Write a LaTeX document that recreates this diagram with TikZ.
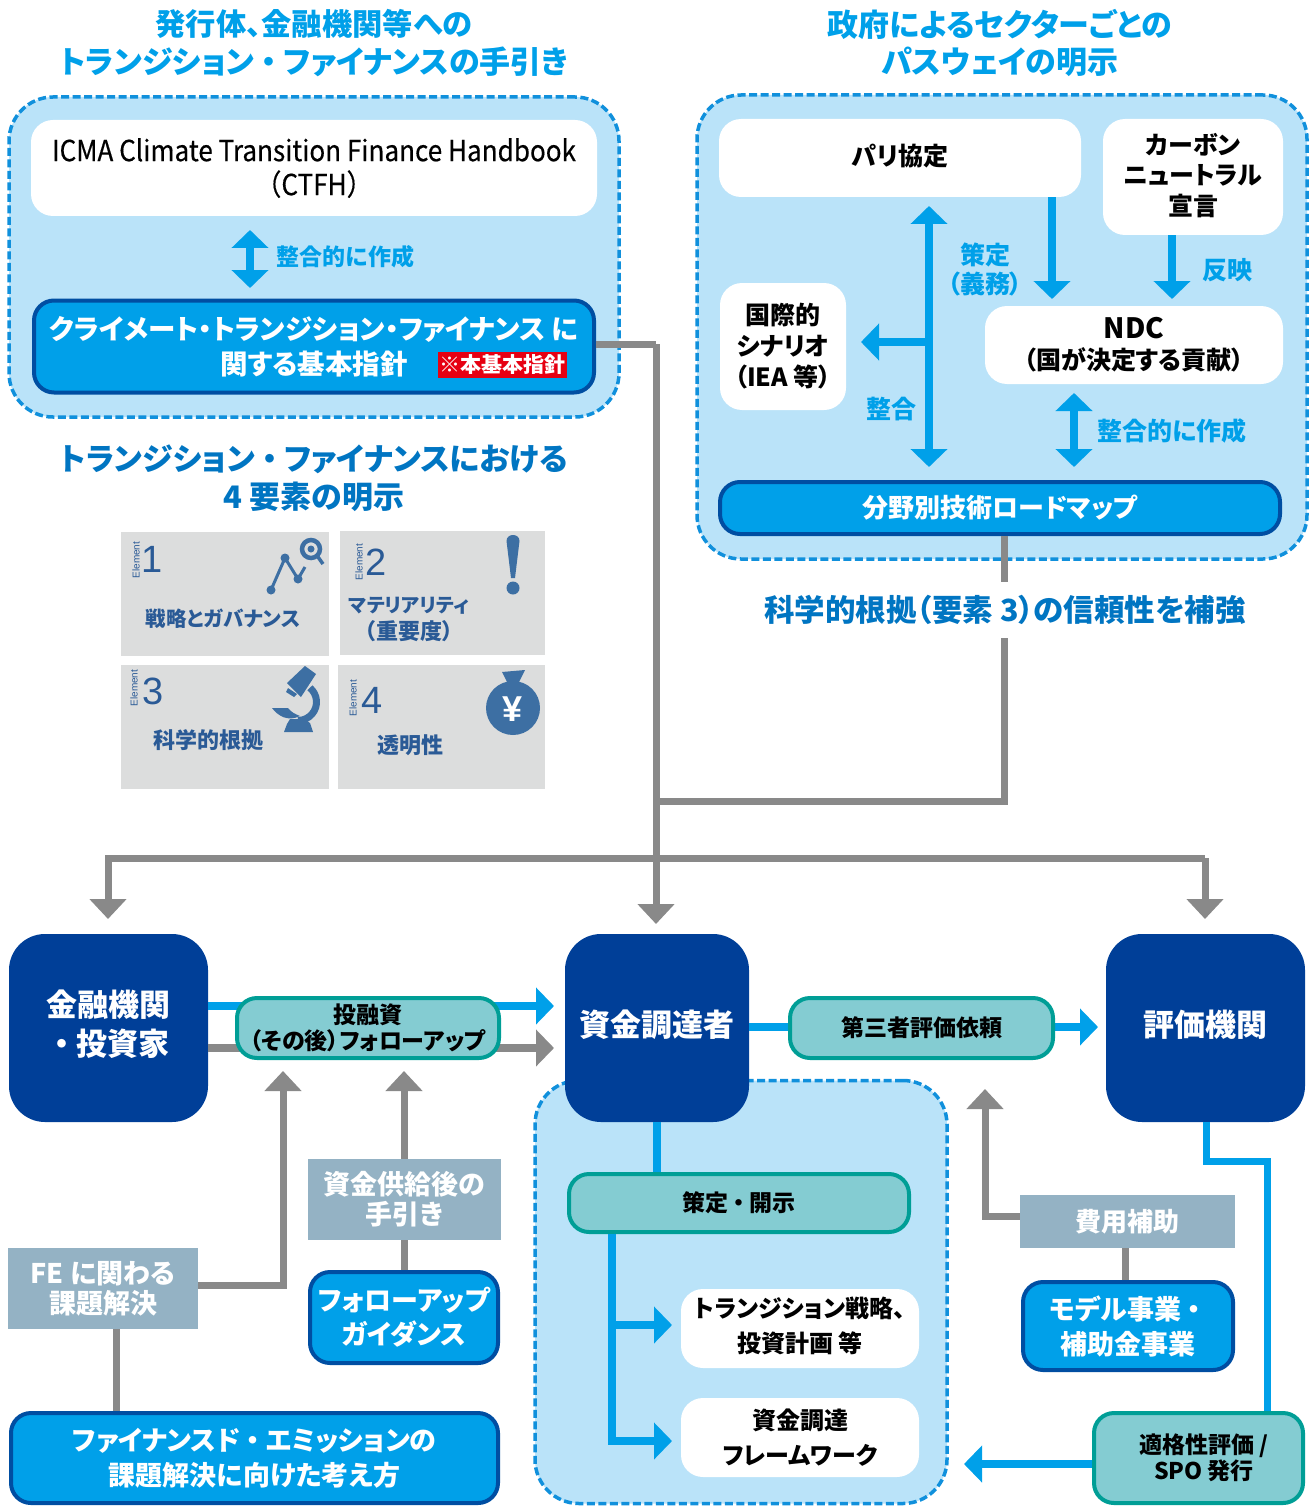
\documentclass[tikz,border=0pt]{standalone}
\usepackage{fontspec}
\usepackage{xcolor}
\usepackage{tikz}
\usetikzlibrary{arrows.meta}
\setmainfont{Noto Sans CJK JP}[RawFeature=+palt]
\newfontfamily\latinfont{Liberation Sans}
\newfontfamily\ctfhfont[FakeStretch=0.9,FakeBold=0.4]{Noto Sans CJK JP}
\newcommand{\widedot}{\hspace*{.22em}・\hspace*{.22em}}
\definecolor{panelblue}{HTML}{BAE3F9}
\definecolor{dashblue}{HTML}{1090DC}
\definecolor{cyanblue}{HTML}{00A0E9}
\definecolor{headblue}{HTML}{0075C2}
\definecolor{navyblue}{HTML}{003F98}
\definecolor{edgeblue}{HTML}{004EA2}
\definecolor{tealfill}{HTML}{84CCD2}
\definecolor{tealedge}{HTML}{009E96}
\definecolor{linegray}{HTML}{898989}
\definecolor{slategray}{HTML}{94B2C4}
\definecolor{cardgray}{HTML}{DCDDDD}
\definecolor{cardblue}{HTML}{2A5A96}
\definecolor{iconblue}{HTML}{3D6FA3}
\definecolor{tagred}{HTML}{E60012}

\begin{document}
\begin{tikzpicture}[x=1pt,y=-1pt]
	\tikzstyle{panel}=[rectangle,draw=dashblue,fill=panelblue,line width=3.5pt,dash pattern=on 8pt off 3.5pt,rounded corners=44pt]
	\tikzstyle{whitebox}=[rectangle,fill=white,rounded corners=22pt,align=center,font=\bfseries\fontsize{25}{31}\selectfont]
	\tikzstyle{bluebox}=[rectangle,draw=edgeblue,fill=cyanblue,line width=4pt,rounded corners=20pt,align=center,text=white,font=\bfseries\fontsize{27}{34}\selectfont]
	\tikzstyle{navybox}=[rectangle,fill=navyblue,rounded corners=36pt,align=center,text=white,font=\bfseries\fontsize{31}{39}\selectfont]
	\tikzstyle{tealbox}=[rectangle,draw=tealedge,fill=tealfill,line width=4pt,rounded corners=20pt,align=center,font=\bfseries\fontsize{23}{26}\selectfont]
	\tikzstyle{slatebox}=[rectangle,fill=slategray,align=center,text=white,font=\bfseries\fontsize{27}{30}\selectfont]
	\tikzstyle{card}=[rectangle,fill=cardgray,minimum width=206pt,minimum height=124pt]
	\tikzstyle{heading}=[align=center,font=\bfseries\fontsize{31}{38}\selectfont]
	\tikzstyle{cyanlabel}=[text=cyanblue,align=center,font=\bfseries\fontsize{25}{29}\selectfont]
	\tikzstyle{cardtext}=[text=cardblue,align=center,font=\bfseries\fontsize{22}{27}\selectfont]
	\tikzstyle{elementtext}=[text=cardblue,rotate=90,font=\latinfont\fontsize{10}{10}\selectfont]
	\tikzstyle{cardnum}=[text=cardblue,font=\latinfont\fontsize{38}{38}\selectfont]
	\tikzstyle{cyanline}=[color=cyanblue,line width=8pt]
	\tikzstyle{grayline}=[color=linegray,line width=7pt]
	\tikzstyle{cyanarrow}=[cyanline,-{Triangle[length=18pt,width=36pt]}]
	\tikzstyle{cyanboth}=[cyanline,{Triangle[length=18pt,width=36pt]}-{Triangle[length=18pt,width=36pt]}]
	\tikzstyle{grayarrow}=[grayline,-{Triangle[length=20pt,width=36pt]}]

	\useasboundingbox (0,0) rectangle (1314,1506);

	% upper left
	\node[heading,text=cyanblue,font=\bfseries\fontsize{30.3}{38}\selectfont] (titleA) at (314,24) {発行体、金融機関等への};
	\node[heading,text=cyanblue] (titleB) at (314,62) {トランジション\widedot ファイナンスの手引き};
	\node[panel,minimum width=610pt,minimum height=320pt] (panelA) at (314,257) {};
	\node[whitebox,minimum width=566pt,minimum height=96pt,font=\ctfhfont\fontsize{29}{34}\selectfont] (ctfh) at (314,168) {ICMA Climate Transition Finance Handbook\\（CTFH）};
	\node[bluebox,minimum width=560pt,minimum height=92pt,font=\bfseries\fontsize{27.5}{35}\selectfont] (guide) at (314,346.5) {クライメート・トランジション・ファイナンス に\\関する基本指針};
	\node[rectangle,fill=tagred,text=white,minimum width=129pt,minimum height=26pt,inner sep=0pt,font=\bfseries\fontsize{21}{21}\selectfont] (tag) at (502.5,365) {※本基本指針};
	\coordinate (guideup) at (250,230);
	\coordinate (guidedown) at (250,288);
	\draw[cyanboth] (guideup) -- (guidedown);
	\node[cyanlabel,font=\bfseries\fontsize{23}{23}\selectfont] (labelA) at (345.5,257) {整合的に作成};

	% upper right
	\node[heading,text=cyanblue] (titleC) at (1000,24) {政府によるセクターごとの};
	\node[heading,text=cyanblue] (titleD) at (1000,62) {パスウェイの明示};
	\node[panel,minimum width=610pt,minimum height=464pt] (panelB) at (1002,327) {};
	\node[whitebox,minimum width=362pt,minimum height=78pt] (paris) at (900,158) {\raisebox{6pt}{パリ協定}};
	\node[whitebox,minimum width=180pt,minimum height=116pt] (carbon) at (1193,177) {\raisebox{5pt}{\shortstack{カーボン\\[5pt]ニュートラル\\[5pt]宣言}}};
	\node[whitebox,minimum width=126pt,minimum height=127pt] (iea) at (783,346.5) {国際的\\シナリオ\\（IEA 等）};
	\node[whitebox,minimum width=298pt,minimum height=78pt] (ndc) at (1134,345) {{\fontsize{28}{28}\selectfont NDC}\\（国が決定する貢献）};
	\node[bluebox,minimum width=560pt,minimum height=52pt,font=\bfseries\fontsize{26}{30}\selectfont] (roadmap) at (1000,508) {分野別技術ロードマップ};
	\coordinate (parisup) at (929,206);
	\coordinate (parisdown) at (929,467);
	\coordinate (ieaend) at (861,342);
	\coordinate (parisndc) at (1052,299);
	\coordinate (carbonndc) at (1172,299);
	\coordinate (ndcup) at (1074,393);
	\coordinate (ndcdown) at (1074,467);
	\draw[cyanboth] (parisup) -- (parisdown);
	\draw[cyanarrow] (parisup |- ieaend) -- (ieaend);
	\draw[cyanarrow] (parisndc |- paris.south) -- (parisndc);
	\draw[cyanarrow] (carbonndc |- carbon.south) -- (carbonndc);
	\draw[cyanboth] (ndcup) -- (ndcdown);
	\node[cyanlabel] (labelB) at (985,269) {策定\\（義務）};
	\node[cyanlabel] (labelC) at (1227,270) {反映};
	\node[cyanlabel] (labelD) at (891,409) {整合};
	\node[cyanlabel] (labelE) at (1172,431) {整合的に作成};

	% gray lines in the middle
	\coordinate (mainend) at (656,924);
	\coordinate (mainknee) at (656,344);
	\coordinate (roadknee) at (1004,801);
	\coordinate (barleft) at (108,858);
	\coordinate (barright) at (1205,858);
	\coordinate (finend) at (108,919);
	\coordinate (evalend) at (1205,919);
	\draw[grayline] (guide.east |- mainknee) -- (mainknee);
	\draw[grayarrow] (mainknee) -- (mainend);
	\draw[grayline] (roadknee |- roadmap.south) -- (roadknee) -- (roadknee -| mainknee);
	\draw[grayarrow] (barright) -- (barleft) -- (finend);
	\draw[grayarrow] (barright) -- (evalend);
	\node[heading,text=headblue,fill=white,minimum width=500pt,minimum height=56pt,inner sep=0pt,font=\bfseries\fontsize{30.5}{36}\selectfont] (titleF) at (1005,610) {科学的根拠（要素 3）の信頼性を補強};

	% element cards
	\node[heading,text=headblue] (titleE) at (314,478) {トランジション\widedot ファイナンスにおける\\4 要素の明示};
	\node[card,minimum width=208pt] (cardA) at (225,593.5) {};
	\node[card,minimum width=205pt] (cardB) at (442.5,593) {};
	\node[card,minimum width=208pt] (cardC) at (225,727) {};
	\node[card,minimum width=207pt] (cardD) at (441.5,726.5) {};
	\node[elementtext] (elA) at (136,560) {Element};
	\node[elementtext] (elB) at (359,562) {Element};
	\node[elementtext] (elC) at (134,688) {Element};
	\node[elementtext] (elD) at (353,698) {Element};
	\node[cardnum] (numA) at (152,559) {1};
	\node[cardnum] (numB) at (376,562) {2};
	\node[cardnum] (numC) at (153,691) {3};
	\node[cardnum] (numD) at (372,700) {4};
	\node[cardtext,font=\bfseries\fontsize{20.5}{27}\selectfont] (textA) at (223,619) {戦略とガバナンス};
	\node[cardtext] (textB) at (409,619) {{\fontsize{19.5}{27}\selectfont マテリアリティ}\\（重要度）};
	\node[cardtext] (textC) at (208,740) {科学的根拠};
	\node[cardtext] (textD) at (410,745) {透明性};
	% icons of the cards
	\draw[iconblue,line width=3pt] (271,590) -- (285,558) -- (298,579) -- (305,567);
	\fill[iconblue] (271,590) circle (4.5pt) (285,558) circle (4.5pt) (298,579) circle (4.5pt);
	\draw[iconblue,line width=4.5pt] (311,549) circle (9pt);
	\fill[iconblue] (311,549) circle (3.5pt);
	\draw[iconblue,line width=3.5pt] (318,557) -- (323,564);
	\fill[iconblue] (506.5,541) .. controls (506.5,533) and (519.5,533) .. (519.5,541) -- (515,578) -- (511,578) -- cycle;
	\fill[iconblue] (513,588) circle (6.5pt);
	\fill[iconblue] (305,666) -- (316,674) -- (301,697) -- (287,683) -- cycle;
	\fill[iconblue] (286,692) -- (288,688) -- (297,694) -- (294,697) -- cycle;
	\draw[iconblue,line width=7pt] (309.9,687.8) arc[start angle=50,end angle=-90,radius=18.5pt];
	\fill[iconblue] (272,708) -- (288,708) .. controls (291,712) and (295,714) .. (300,716) .. controls (288,722) and (278,716) .. cycle;
	\fill[iconblue] (284,732) -- (313,732) -- (310,723) -- (304,719) -- (290,719) -- (287,724) -- cycle;
	\fill[iconblue] (513,708) circle (27pt);
	\fill[iconblue] (502,672) -- (525,670) -- (518,684) -- (508,684) -- cycle;
	\node[text=white,font=\latinfont\bfseries\fontsize{36}{36}\selectfont] (yen) at (513,709) {¥};

	% bottom row
	\node[panel,minimum width=412pt,minimum height=423pt] (panelC) at (741,1292) {};
	\node[navybox,minimum width=199pt,minimum height=188pt] (fin) at (108.5,1028) {\raisebox{11pt}{\shortstack{金融機関\\[7pt]\widedot 投資家}}};
	\node[navybox,minimum width=184pt,minimum height=188pt] (issuer) at (657,1028) {\raisebox{10pt}{資金調達者}};
	\node[navybox,minimum width=199pt,minimum height=188pt] (evaluator) at (1205.5,1028) {\raisebox{10pt}{評価機関}};
	\coordinate (investcyan) at (554,1006);
	\coordinate (investgray) at (554,1048);
	\coordinate (requestend) at (1098,1027);
	\draw[cyanarrow] (fin.east |- investcyan) -- (investcyan);
	\draw[grayarrow,-{Triangle[length=18pt,width=36pt]},line width=8pt] (fin.east |- investgray) -- (investgray);
	\draw[cyanarrow] (issuer.east |- requestend) -- (requestend);
	\node[tealbox,minimum width=262pt,minimum height=60pt] (invest) at (368,1028) {投融資\\（その後）フォローアップ};
	\node[tealbox,minimum width=263pt,minimum height=60pt] (request) at (921.5,1028) {第三者評価依頼};

	% left side of the bottom
	\node[slatebox,minimum width=190pt,minimum height=81pt] (fekadai) at (103,1288.5) {FE に関わる\\課題解決};
	\node[slatebox,minimum width=193pt,minimum height=81pt] (tebiki) at (404.5,1199.5) {資金供給後の\\手引き};
	\node[bluebox,minimum width=188pt,minimum height=91pt,font=\bfseries\fontsize{27}{34}\selectfont] (followup) at (404,1317.5) {フォローアップ\\ガイダンス};
	\node[bluebox,minimum width=487pt,minimum height=90pt,font=\bfseries\fontsize{27}{35}\selectfont] (femission) at (254.5,1458) {ファイナンスド\widedot エミッションの\\課題解決に向けた考え方};
	\coordinate (feknee) at (283,1285);
	\coordinate (feend) at (283,1071);
	\coordinate (tebikiend) at (404,1071);
	\coordinate (felow) at (116,1329);
	\draw[grayarrow] (fekadai.east |- feknee) -- (feknee) -- (feend);
	\draw[grayarrow] (tebiki.north -| tebikiend) -- (tebikiend);
	\draw[grayline] (followup.north) -- (followup.north |- tebiki.south);
	\draw[grayline] (femission.north -| felow) -- (felow);

	% inside the lower panel
	\node[tealbox,minimum width=340pt,minimum height=58pt] (disclose) at (739,1203) {策定\widedot 開示};
	\node[whitebox,minimum width=238pt,minimum height=79pt,font=\bfseries\fontsize{24}{35}\selectfont] (strategy) at (800,1328.5) {\raisebox{7pt}{\shortstack{トランジション戦略、\\[9pt]投資計画 等}}};
	\node[whitebox,minimum width=238pt,minimum height=79pt,font=\bfseries\fontsize{24}{35}\selectfont] (framework) at (800,1437.5) {資金調達\\フレームワーク};
	\coordinate (branchtop) at (612,1234);
	\coordinate (strategyend) at (672,1325);
	\coordinate (frameworkend) at (672,1441);
	\draw[cyanline] (issuer.south) -- (issuer.south |- disclose.north);
	\draw[cyanarrow] (branchtop) -- (branchtop |- frameworkend) -- (frameworkend);
	\draw[cyanarrow] (branchtop |- strategyend) -- (strategyend);

	% right side of the bottom
	\node[slatebox,minimum width=215pt,minimum height=53pt,font=\bfseries\fontsize{26}{30}\selectfont] (subsidy) at (1127.5,1221.5) {費用補助};
	\node[bluebox,minimum width=210pt,minimum height=88pt,font=\bfseries\fontsize{27}{35}\selectfont] (model) at (1128,1326) {モデル事業\widedot\\補助金事業};
	\node[tealbox,minimum width=209pt,minimum height=90pt] (spo) at (1198.5,1458) {\hspace*{11pt}適格性評価 /\\\hspace*{11pt}SPO 発行};
	\coordinate (subsidyknee) at (985,1216);
	\coordinate (subsidyend) at (985,1089);
	\coordinate (evalknee) at (1206,1161);
	\coordinate (spoknee) at (1267,1161);
	\coordinate (spoend) at (964,1464);
	\coordinate (modeltop) at (1125,1280);
	\draw[grayarrow] (subsidy.west |- subsidyknee) -- (subsidyknee) -- (subsidyend);
	\draw[grayline] (modeltop) -- (modeltop |- subsidy.south);
	\draw[cyanline,line width=7pt] (evalknee |- evaluator.south) -- (evalknee) -- (spoknee) -- (spoknee |- spo.north);
	\draw[cyanarrow] (spo.west |- spoend) -- (spoend);
\end{tikzpicture}
\end{document}
